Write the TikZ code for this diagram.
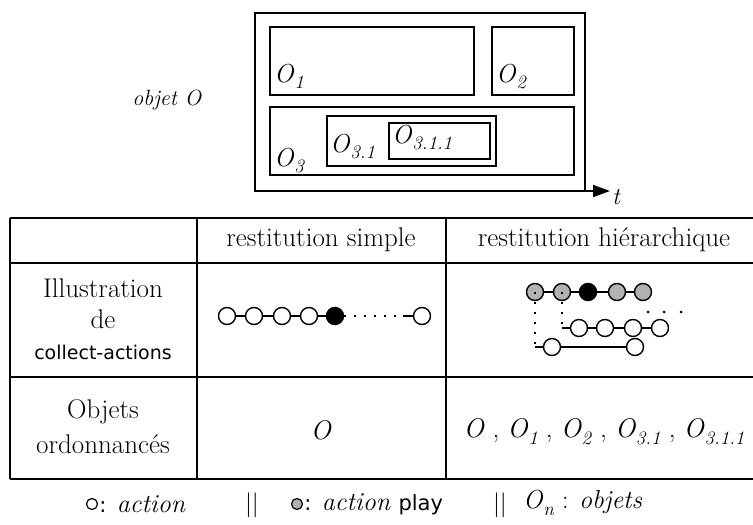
\documentclass[tikz,border=0pt]{standalone}
\usepackage{fontspec}
\usetikzlibrary{arrows.meta}
\newfontfamily\sansdv{DejaVu Sans}
\newcommand{\objsub}[1]{\textit{O}\raisebox{-0.6ex}{\fontsize{19}{22}\selectfont\textit{#1}}}
\tikzstyle{act}=[circle,draw,line width=1.4pt,fill=white,inner sep=0pt,minimum size=17pt]
\tikzstyle{actplay}=[act,fill=black!30]
\tikzstyle{actnow}=[act,fill=black]
\tikzstyle{link}=[line width=1.4pt]
\tikzstyle{dots}=[line width=1.8pt,dash pattern=on 1.8pt off 8.2pt]
\tikzstyle{box}=[draw,line width=1.6pt]
\tikzstyle{lbl}=[inner sep=0pt,anchor=base west,font=\fontsize{26}{30}\selectfont]
\tikzstyle{cell}=[align=center,inner sep=0pt,font=\fontsize{27}{31}\selectfont]

\begin{document}
\begin{tikzpicture}[x=1pt,y=-1pt]
    \useasboundingbox (0,0) rectangle (753,525);
    \draw[box] (255,13) rectangle (585,191);
    \draw[box] (270,27) rectangle (474,95);
    \draw[box] (492,27) rectangle (574,95);
    \draw[box] (270,107) rectangle (574,175);
    \draw[box] (327,116) rectangle (496,166);
    \draw[box] (389,123) rectangle (490,159);
    \coordinate (tstart) at (255,191);
    \coordinate (tend) at (610,191);
    \draw[line width=1.6pt,-{Triangle[length=17pt,width=12pt]}] (tstart) -- (tend);
    \node[lbl,font=\fontsize{24}{28}\selectfont] (tlab) at (612,204) {\textit{t}};
    \node[cell,font=\fontsize{22}{28}\selectfont] (objO) at (167,100) {\textit{objet O}};
    \node[lbl] (o1) at (274,82) {\objsub{1}};
    \node[lbl] (o2) at (496,82) {\objsub{2}};
    \node[lbl] (o3) at (274,166) {\objsub{3}};
    \node[lbl] (o31) at (330,152) {\objsub{3.1}};
    \node[lbl] (o311) at (392,143) {\objsub{3.1.1}};

    \draw[line width=1.7pt] (10,218) -- (753,218) (10,263) -- (753,263) (10,377) -- (753,377) (10,479) -- (753,479);
    \draw[line width=1.7pt] (10,218) -- (10,479) (197,218) -- (197,479) (446,218) -- (446,479);
    \node[cell] (hsimple) at (321,240) {restitution simple};
    \node[cell] (hhier) at (604,240) {restitution hiérarchique};
    \node[cell] (illus) at (103,319) {Illustration\\de\\{\sansdv\fontsize{19}{24}\selectfont collect-actions}};
    \node[cell] (objord) at (103,427) {Objets\\[4pt]ordonnancés};
    \node[cell] (osimple) at (321,430) {\textit{O}};
    \node[cell] (ohier) at (604,432) {\textit{O} , \objsub{1} , \objsub{2} , \objsub{3.1} , \objsub{3.1.1}};

    \foreach \i/\x in {1/227,2/254,3/282,4/309}
      \node[act] (s\i) at (\x,316) {};
    \node[actnow] (s5) at (335,316) {};
    \node[act] (s6) at (422,316) {};
    \coordinate (sgap) at (403,316);
    \draw[link] (s1) -- (s2) -- (s3) -- (s4) -- (s5);
    \draw[dots] (s5) -- (sgap);
    \draw[link] (sgap) -- (s6);

    \node[actplay] (h1) at (535,292) {};
    \node[actplay] (h2) at (562,292) {};
    \node[actnow] (h3) at (588,292) {};
    \node[actplay] (h4) at (617,292) {};
    \node[actplay] (h5) at (643,292) {};
    \foreach \i/\x in {1/579,2/605,3/633,4/660}
      \node[act] (m\i) at (\x,328) {};
    \node[act] (b1) at (552,347) {};
    \node[act] (b2) at (635,347) {};
    \coordinate (mcorner) at (562,328);
    \coordinate (bcorner) at (535,347);
    \draw[link] (h1) -- (h2) -- (h3) -- (h4) -- (h5);
    \draw[link] (mcorner) -- (m1) -- (m2) -- (m3) -- (m4);
    \draw[link] (bcorner) -- (b1) -- (b2);
    \draw[dots] (h1.center) -- (bcorner);
    \draw[dots] (h2.center) -- (mcorner);
    \foreach \x in {648,664,681}
      \fill (\x,312) circle (1.5pt);

    \node[act,minimum size=11pt,line width=1.2pt] (lgact) at (92,504) {};
    \node[cell,anchor=west,font=\fontsize{26}{30}\selectfont] (lgacttxt) at ([xshift=1pt]lgact.east) {{\sansdv\fontsize{21}{24}\selectfont:} \textit{action}};
    \node[cell] (sep1) at (252,505) {$||$};
    \node[actplay,minimum size=11pt,line width=1.2pt] (lgplay) at (297,504) {};
    \node[cell,anchor=west,font=\fontsize{26}{30}\selectfont] (lgplaytxt) at ([xshift=1pt]lgplay.east) {{\sansdv\fontsize{21}{24}\selectfont:} \textit{action} {\sansdv\fontsize{21}{24}\selectfont play}};
    \node[cell] (sep2) at (500,505) {$||$};
    \node[cell,anchor=west,font=\fontsize{26}{30}\selectfont] (lgobj) at (523,503) {\objsub{n} : \textit{objets}};
\end{tikzpicture}
\end{document}
